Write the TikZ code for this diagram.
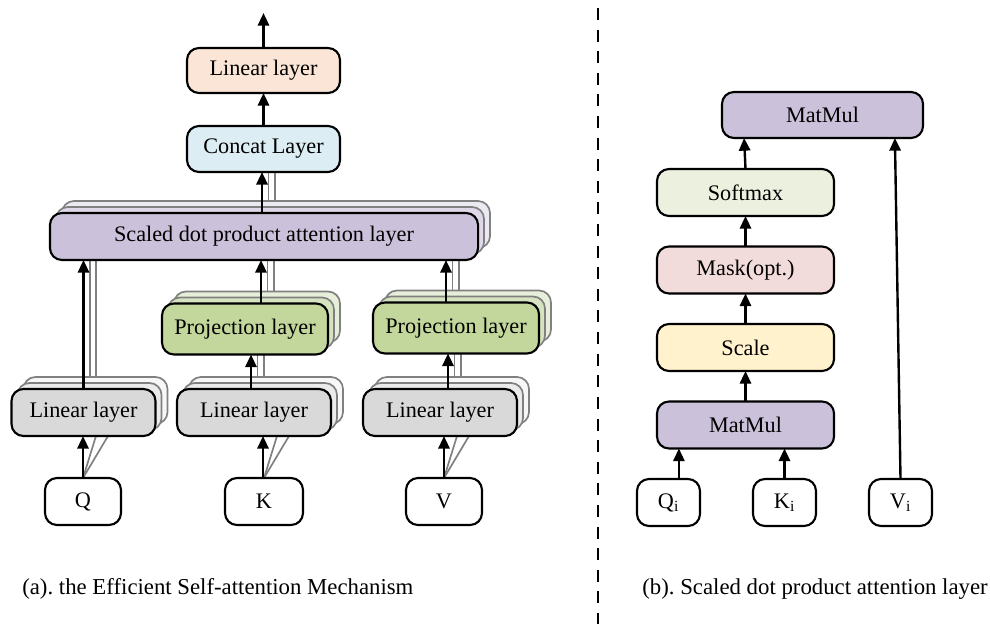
\documentclass[tikz,border=0pt]{standalone}
\usepackage{fontspec}
\setmainfont{Liberation Serif}
\usepackage{xcolor}
\usetikzlibrary{arrows.meta, calc}

\pgfdeclarelayer{lines}
\pgfdeclarelayer{stack}
\pgfsetlayers{lines,stack,main}

\definecolor{lintop}{HTML}{FBE5D6}
\definecolor{concat}{HTML}{DCEDF3}
\definecolor{sdpa}{HTML}{CCC1DA}
\definecolor{sdpab}{HTML}{DED8E8}
\definecolor{sdpac}{HTML}{ECEAF1}
\definecolor{proj}{HTML}{C3D69B}
\definecolor{projb}{HTML}{D6E3C0}
\definecolor{projc}{HTML}{E7EFDB}
\definecolor{lin}{HTML}{D9D9D9}
\definecolor{linb}{HTML}{EBEBEB}
\definecolor{linc}{HTML}{F7F7F7}
\definecolor{soft}{HTML}{EBF1DE}
\definecolor{mask}{HTML}{F2DCDB}
\definecolor{scale}{HTML}{FFF2CC}
\definecolor{feedgray}{HTML}{808080}

\begin{document}
\frenchspacing
\begin{tikzpicture}[
  x=0.025cm, y=-0.025cm,
  >={Triangle[length=9pt,width=8pt]},
  arr/.style={->, line width=1.7pt},
  feed/.style={draw=feedgray, line width=1.2pt},
  box/.style={draw, line width=1.5pt, rounded corners=0.3cm, outer sep=0pt,
    inner sep=0pt, minimum height=1.175cm, font=\fontsize{15.8}{18}\selectfont},
  backbox/.style={draw=feedgray, line width=1.2pt, rounded corners=0.3cm},
  inbox/.style={box, fill=white},
  caption/.style={inner sep=0pt, font=\fontsize{16.2}{18}\selectfont}
]
\useasboundingbox (0,0) rectangle (990,624);

% (a) efficient self-attention
\node[box, fill=lintop, minimum width=3.825cm, minimum height=1.125cm] (out) at (263.5,70.5) {Linear layer};
\node[box, fill=concat, minimum width=3.825cm, minimum height=1.15cm] (concat) at (263.5,149) {Concat Layer};
\node[box, fill=sdpa, minimum width=10.7cm] (sdpa) at (264,236.5) {Scaled dot product attention layer};
\node[box, fill=proj, minimum width=4.15cm, minimum height=1.275cm] (Kproj) at (245,329) {Projection layer};
\node[box, fill=proj, minimum width=4.15cm, minimum height=1.275cm] (Vproj) at (456,328) {Projection layer};
\node[box, fill=lin, minimum width=3.6cm] (Qlin) at (83.5,412.5) {Linear layer};
\node[box, fill=lin, minimum width=3.85cm] (Klin) at (254,412.5) {Linear layer};
\node[box, fill=lin, minimum width=3.85cm] (Vlin) at (440,412.5) {Linear layer};
\node[inbox, minimum width=1.9cm] (Q) at (83,501.5) {Q};
\node[inbox, minimum width=1.95cm] (K) at (264,501.5) {K};
\node[inbox, minimum width=1.9cm] (V) at (444,501.5) {V};
\coordinate (top) at (263.5,13);

\begin{pgfonlayer}{stack}
\foreach \n/\fa/\fb in {sdpa/sdpab/sdpac, Kproj/projb/projc, Vproj/projb/projc,
    Qlin/linb/linc, Klin/linb/linc, Vlin/linb/linc} {
  \draw[backbox, fill=\fb] ([shift={(12,-12)}]\n.south west) rectangle ([shift={(12,-12)}]\n.north east);
  \draw[backbox, fill=\fa] ([shift={(6,-6)}]\n.south west) rectangle ([shift={(6,-6)}]\n.north east);
}
\end{pgfonlayer}

\begin{pgfonlayer}{lines}
\foreach \a/\b/\s in {Qlin/sdpa/0, Klin/Kproj/-0.075, Kproj/sdpa/0.4,
    Vlin/Vproj/0.2, Vproj/sdpa/-0.25, sdpa/concat/-0.05}
  \foreach \d in {0.16,0.32}
    \draw[feed] ([xshift=\s cm+\d cm]\a.north) coordinate (p) -- (p |- \b.south);
\foreach \a/\b in {Q/Qlin, K/Klin, V/Vlin}
  \foreach \d in {0.325,0.625}
    \draw[feed] (\a.north) -- ([xshift=\d cm]\a.north |- \b.south);
\end{pgfonlayer}

\foreach \a/\b/\s in {Q/Qlin/0, Qlin/sdpa/0, K/Klin/-0.025, Klin/Kproj/-0.075,
    Kproj/sdpa/0.4, V/Vlin/0, Vlin/Vproj/0.2, Vproj/sdpa/-0.25,
    sdpa/concat/-0.05, concat/out/0}
  \draw[arr] ([xshift=\s cm]\a.north) coordinate (p) -- (p |- \b.south);
\draw[arr] (out.north) -- (top);

% (b) scaled dot product attention
\node[box, fill=sdpa, minimum width=5.025cm, minimum height=1.15cm] (mm2) at (822.5,115) {MatMul};
\node[box, fill=soft, minimum width=4.425cm] (soft) at (745.5,192.5) {Softmax};
\node[box, fill=mask, minimum width=4.425cm] (mask) at (745.5,270) {Mask(opt.)};
\node[box, fill=scale, minimum width=4.425cm] (scale) at (745.5,347.5) {Scale};
\node[box, fill=sdpa, minimum width=4.425cm] (mm1) at (745.5,425) {MatMul};
\node[inbox, minimum width=1.575cm] (Qi) at (668.5,502.5) {Q\textsubscript{i}};
\node[inbox, minimum width=1.575cm] (Ki) at (784.5,502.5) {K\textsubscript{i}};
\node[inbox, minimum width=1.575cm] (Vi) at (900.5,502.5) {V\textsubscript{i}};

\draw[arr] ([xshift=0.26cm]Qi.north) coordinate (p) -- (p |- mm1.south);
\draw[arr] (Ki.north) -- (Ki.north |- mm1.south);
\foreach \a/\b in {mm1/scale, scale/mask, mask/soft}
  \draw[arr] (\a.north) -- (\b.south);
\draw[arr] (soft.north) -- ([xshift=-1.96cm]mm2.south);
\draw[arr] (Vi.north) -- ([xshift=1.81cm]mm2.south);

% captions and separator
\node[caption, anchor=west] (capa) at (22,589) {(a). the Efficient Self-attention Mechanism};
\node[caption, anchor=east] (capb) at (988,589) {(b). Scaled dot product attention layer};
\draw[line width=1.4pt, dash pattern=on 0.3cm off 0.24cm] (598,8) -- (598,624);
\end{tikzpicture}
\end{document}
